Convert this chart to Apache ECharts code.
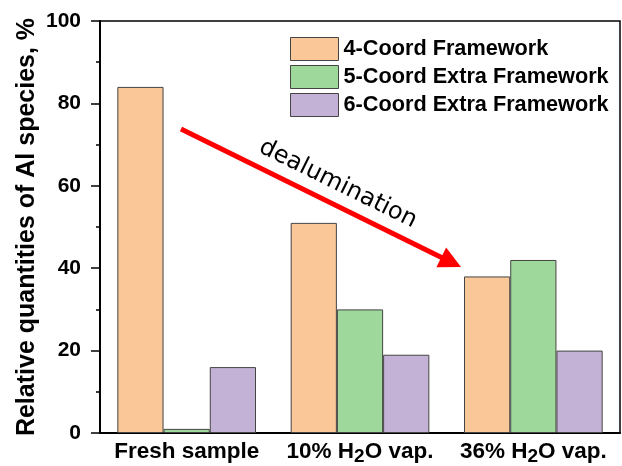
<!DOCTYPE html>
<html>
<head>
<meta charset="utf-8">
<script src="https://cdn.jsdelivr.net/npm/echarts@6/dist/echarts.min.js"></script>
<style>
  html, body { margin: 0; padding: 0; background: #fff; }
  #chart { width: 622px; height: 466px; }
</style>
</head>
<body>
<div id="chart"></div>
<script>
// Samples (x categories); the "2" in H2O is drawn as a subscript
const categories = ['Fresh sample', '10% H2O vap.', '36% H2O vap.'];
const seriesNames = ['4-Coord Framework', '5-Coord Extra Framework', '6-Coord Extra Framework'];
const coord4 = [84, 51, 38];
const coord5 = [1, 30, 42];
const coord6 = [16, 19, 20];
const yTicks = [0, 20, 40, 60, 80, 100];
const colors = ['#FAC898', '#9ED89B', '#C3B2D6'];

const FONT = '"Liberation Sans", Arial, sans-serif';

const chart = echarts.init(document.getElementById('chart'));

function catLabel(v) {
  const i = v.indexOf('H2O');
  if (i < 0) return '{a|' + v + '}';
  return '{a|' + v.slice(0, i + 1) + '}{s|2}{a|' + v.slice(i + 2) + '}';
}

const values = [coord4, coord5, coord6];

chart.setOption({
  animation: false,
  backgroundColor: '#fff',
  textStyle: { fontFamily: FONT },
  grid: {
    left: 100, right: 2, top: 21, bottom: 29,
    show: true, borderColor: '#000', borderWidth: 1.5
  },
  legend: {
    orient: 'vertical',
    left: 285, top: 32,
    itemWidth: 48, itemHeight: 23, itemGap: 4,
    icon: 'rect',
    selectedMode: false,
    itemStyle: { borderColor: '#444', borderWidth: 1 },
    textStyle: { fontFamily: FONT, fontWeight: 'bold', fontSize: 21.7, color: '#000' },
    data: seriesNames
  },
  xAxis: {
    type: 'category',
    data: categories,
    axisLine: { lineStyle: { color: '#000', width: 2 } },
    axisTick: { show: false },
    axisLabel: {
      margin: 7,
      formatter: catLabel,
      rich: {
        a: { fontFamily: FONT, fontWeight: 'bold', fontSize: 22.5, color: '#000', verticalAlign: 'top' },
        s: { fontFamily: FONT, fontWeight: 'bold', fontSize: 19, color: '#000', verticalAlign: 'bottom', padding: [7, 0, 0, 0] }
      }
    }
  },
  yAxis: {
    type: 'value',
    min: yTicks[0], max: yTicks[yTicks.length - 1], interval: 20,
    name: 'Relative quantities of Al species, %',
    nameLocation: 'middle',
    nameGap: 60,
    nameMoveOverlap: false,
    nameTextStyle: { fontFamily: FONT, fontWeight: 'bold', fontSize: 25, color: '#000' },
    axisLine: { show: true, lineStyle: { color: '#000', width: 2 } },
    axisTick: { show: true, length: 9, lineStyle: { color: '#000', width: 1.5 } },
    minorTick: { show: true, splitNumber: 2, length: 4, lineStyle: { color: '#000', width: 1.5 } },
    splitLine: { show: false },
    axisLabel: { fontFamily: FONT, fontWeight: 'bold', fontSize: 21, color: '#000', margin: 19 }
  },
  series: seriesNames.map((name, i) => ({
    name: name,
    type: 'bar',
    data: values[i],
    barGap: '0%',
    barCategoryGap: '20%',
    itemStyle: { color: colors[i], borderColor: '#444', borderWidth: 1 }
  }))
});

// "dealumination" trend arrow annotation
const p0 = [181, 129], p1 = [461, 267];
const ang = Math.atan2(p1[1] - p0[1], p1[0] - p0[0]);
const headLen = 22, headW = 11;
const ux = Math.cos(ang), uy = Math.sin(ang);
const base = [p1[0] - ux * headLen, p1[1] - uy * headLen];
chart.setOption({
  graphic: [
    {
      type: 'line',
      shape: { x1: p0[0], y1: p0[1], x2: base[0] + ux * 2, y2: base[1] + uy * 2 },
      style: { stroke: '#FF0000', lineWidth: 5 },
      z: 100
    },
    {
      type: 'polygon',
      shape: { points: [p1, [base[0] - uy * headW, base[1] + ux * headW], [base[0] + uy * headW, base[1] - ux * headW]] },
      style: { fill: '#FF0000' },
      z: 100
    },
    {
      type: 'text',
      x: 338, y: 184,
      rotation: -ang,
      style: {
        text: 'dealumination',
        fontFamily: '"DejaVu Sans", sans-serif',
        fontSize: 24,
        fill: '#000',
        align: 'center',
        verticalAlign: 'middle'
      },
      z: 100
    }
  ]
});
</script>
</body>
</html>
